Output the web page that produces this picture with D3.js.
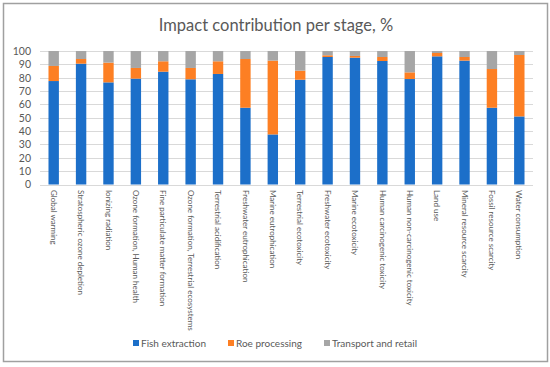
<!DOCTYPE html>
<html lang="en">
<head>
  <meta charset="UTF-8">
  <title>Impact contribution per stage</title>
  <style>
    body { margin: 0; background: #fff; }
    svg { display: block; font-family: Lato, "Open Sans", sans-serif; }
  </style>
</head>
<body>
  <div id="chart"></div>
  <script src="https://cdn.jsdelivr.net/npm/d3@7"></script>
  <script>
    const categories = [
      'Global warming', 'Stratospheric ozone depletion', 'Ionizing radiation',
      'Ozone formation, Human health', 'Fine particulate matter formation',
      'Ozone formation, Terrestrial ecosystems', 'Terrestrial acidification',
      'Freshwater eutrophication', 'Marine eutrophication', 'Terrestrial ecotoxicity',
      'Freshwater ecotoxicity', 'Marine ecotoxicity', 'Human carcinogenic toxicity',
      'Human non-carcinogenic toxicity', 'Land use', 'Mineral resource scarcity',
      'Fossil resource scarcity', 'Water consumption'
    ];
    const fishExtraction = [77.5, 90.5, 76.5, 79.3, 84.5, 78.8, 82.8, 57.5, 37.5, 78.5, 95.5, 95, 92.5, 79, 96, 92.8, 57.5, 51];
    const roeProcessing = [11.3, 3.5, 14.8, 8, 7.8, 8.5, 9.5, 36.5, 55.3, 6.8, 1.3, 1.3, 3, 5, 2.5, 2.7, 29, 46];
    const transportRetail = [11.2, 6, 8.7, 12.7, 7.7, 12.7, 7.7, 6, 7.2, 14.7, 3.2, 3.7, 4.5, 16, 1.5, 4.5, 13.5, 3];
    const seriesNames = ['Fish extraction', 'Roe processing', 'Transport and retail'];
    const yTicks = [0, 10, 20, 30, 40, 50, 60, 70, 80, 90, 100];

    const colors = ['#1c6fc9', '#fd7f23', '#a6a6a6'];
    const width = 550, height = 367;
    const plot = { left: 40, right: 533, top: 51, bottom: 184.5 };

    const svg = d3.select('#chart').append('svg')
      .attr('width', width)
      .attr('height', height);

    // frame
    svg.append('rect')
      .attr('x', 3.5).attr('y', 3.5)
      .attr('width', 544).attr('height', 358)
      .attr('fill', '#fff')
      .attr('stroke', '#a0a0a0')
      .attr('stroke-width', 1.5);

    svg.append('text')
      .attr('x', 276).attr('y', 31)
      .attr('text-anchor', 'middle')
      .attr('font-size', 16.5)
      .attr('fill', '#595959')
      .text('Impact contribution per stage, %');

    const x = d3.scaleBand()
      .domain(categories)
      .range([plot.left, plot.right])
      .paddingInner(0.62)
      .paddingOuter(0.31);

    const y = d3.scaleLinear()
      .domain([0, 100])
      .range([plot.bottom, plot.top]);

    // gridlines
    svg.append('g')
      .selectAll('line')
      .data(yTicks)
      .join('line')
      .attr('x1', plot.left).attr('x2', plot.right)
      .attr('y1', d => Math.round(y(d)) + 0.5).attr('y2', d => Math.round(y(d)) + 0.5)
      .attr('stroke', '#d9d9d9')
      .attr('stroke-width', 1);

    // y axis labels
    const yAxis = svg.append('g')
      .attr('transform', `translate(${plot.left},0)`)
      .call(d3.axisLeft(y).tickValues(yTicks).tickSize(0).tickPadding(9));
    yAxis.select('.domain').remove();
    yAxis.selectAll('text')
      .attr('font-family', 'Lato, "Open Sans", sans-serif')
      .attr('font-size', 10.5)
      .attr('fill', '#595959');

    // stacked bars
    const rows = categories.map((c, i) => ({
      cat: c,
      'Fish extraction': fishExtraction[i],
      'Roe processing': roeProcessing[i],
      'Transport and retail': transportRetail[i]
    }));
    const stacked = d3.stack().keys(seriesNames)(rows);

    svg.append('g')
      .selectAll('g')
      .data(stacked)
      .join('g')
      .attr('fill', (d, i) => colors[i])
      .selectAll('rect')
      .data(d => d)
      .join('rect')
      .attr('x', d => x(d.data.cat))
      .attr('width', x.bandwidth())
      .attr('y', d => y(Math.min(d[1], 100)))
      .attr('height', d => y(d[0]) - y(Math.min(d[1], 100)));

    // baseline
    svg.append('line')
      .attr('x1', plot.left).attr('x2', plot.right)
      .attr('y1', Math.round(y(0)) + 0.5).attr('y2', Math.round(y(0)) + 0.5)
      .attr('stroke', '#d9d9d9');

    // x labels (rotated)
    svg.append('g')
      .selectAll('text')
      .data(categories)
      .join('text')
      .attr('transform', d => `translate(${x(d) + x.bandwidth() / 2},190) rotate(90)`)
      .attr('dy', '0.35em')
      .attr('font-size', 8)
      .attr('fill', '#595959')
      .text(d => d);

    // legend
    const legendX = [133, 228, 324];
    const legend = svg.append('g')
      .selectAll('g')
      .data(seriesNames)
      .join('g')
      .attr('transform', (d, i) => `translate(${legendX[i]},343)`);
    legend.append('rect')
      .attr('x', 0).attr('y', -3)
      .attr('width', 6).attr('height', 6)
      .attr('fill', (d, i) => colors[i]);
    legend.append('text')
      .attr('x', 8).attr('dy', '0.35em')
      .attr('font-size', 10)
      .attr('fill', '#595959')
      .text(d => d);
  </script>
</body>
</html>
